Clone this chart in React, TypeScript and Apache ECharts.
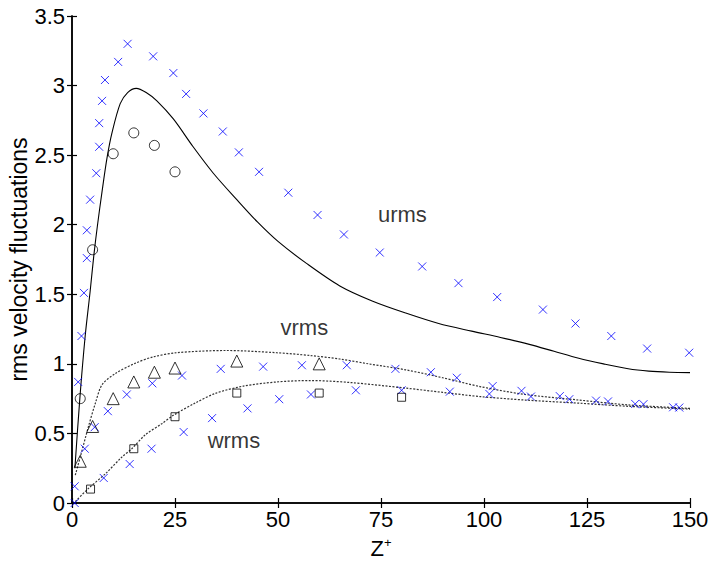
import React, { useEffect, useRef } from "react";
import * as echarts from "echarts";

// ---- data ----
const uLine: number[][] = [
  [0.7, 0.25], [1.9, 0.75], [3.2, 1.2], [4.4, 1.52], [5.3, 1.78], [6.2, 2.0], [7.3, 2.24],
  [8.5, 2.48], [9.7, 2.66], [11.7, 2.87], [13.5, 2.95], [15.6, 2.98], [18, 2.95], [20.6, 2.89],
  [24.6, 2.76], [29.4, 2.56], [34.3, 2.37], [40, 2.18], [45, 2.02], [50, 1.88], [57, 1.72],
  [65, 1.56], [73, 1.45], [81, 1.365], [89, 1.29], [97, 1.235], [104, 1.19], [111, 1.14],
  [117, 1.09], [123, 1.04], [129, 1.0], [135, 0.965], [140, 0.948], [145, 0.94], [150, 0.937],
];
const vLine: number[][] = [
  [0.8, 0.2], [2, 0.33], [4, 0.55], [5.7, 0.72], [7.3, 0.85], [10.5, 0.93], [15.4, 1.005],
  [19.7, 1.05], [25.4, 1.08], [37.5, 1.096], [49.7, 1.08], [57.8, 1.06], [65, 1.035],
  [72, 1.0], [81, 0.957], [90, 0.9], [99, 0.837], [110, 0.78], [123, 0.74], [135, 0.705],
  [150, 0.68],
];
const wLine: number[][] = [
  [0.8, 0.01], [4, 0.105], [8.1, 0.21], [12.1, 0.33], [14.5, 0.39], [17.8, 0.49], [21.8, 0.57],
  [24.6, 0.63], [30, 0.72], [35, 0.79], [41.6, 0.84], [49.7, 0.87], [57.8, 0.88], [67.5, 0.866],
  [81.2, 0.825], [90, 0.795], [99, 0.765], [110, 0.74], [123.3, 0.717], [135, 0.695],
  [150, 0.675],
];
const uDns: number[][] = [
  [1.5, 0.87], [2.3, 1.2], [2.9, 1.51], [3.6, 1.76], [3.6, 1.96], [4.4, 2.18], [5.9, 2.37],
  [6.6, 2.56], [6.6, 2.73], [7.3, 2.89], [8.0, 3.04], [11.2, 3.17], [13.5, 3.3], [19.7, 3.21],
  [24.6, 3.09], [27.7, 2.94], [31.9, 2.8], [36.6, 2.67], [40.5, 2.52], [45.4, 2.38],
  [52.5, 2.23], [59.6, 2.07], [66.0, 1.93], [74.7, 1.8], [85.0, 1.7], [93.8, 1.58],
  [103.2, 1.48], [114.3, 1.39], [122.2, 1.29], [130.9, 1.2], [139.6, 1.11], [149.8, 1.08],
];
const vDns: number[][] = [
  [0.65, 0], [3.1, 0.39], [5.5, 0.545], [8.7, 0.66], [13.3, 0.78], [19.5, 0.86], [26.7, 0.916],
  [36.1, 0.964], [46.4, 0.98], [55.8, 0.99], [66.7, 0.99], [78.5, 0.964], [87.1, 0.94],
  [93.4, 0.9], [102.1, 0.84], [109.1, 0.806], [118.4, 0.768], [127.2, 0.736], [136.7, 0.712],
  [145.9, 0.688],
];
const wDns: number[][] = [
  [0.65, 0.12], [7.7, 0.18], [14.0, 0.28], [19.3, 0.39], [27.1, 0.51], [34.0, 0.61],
  [42.6, 0.68], [50.3, 0.746], [58.0, 0.78], [68.9, 0.81], [80.0, 0.81], [91.7, 0.8],
  [101.3, 0.784], [111.4, 0.765], [120.7, 0.746], [130.1, 0.73], [138.7, 0.71], [147.4, 0.686],
];
const uExp: number[][] = [[2, 0.75], [5, 1.82], [10, 2.51], [15, 2.66], [20, 2.57], [25, 2.38]];
const vExp: number[][] = [
  [2, 0.3], [5, 0.55], [10, 0.75], [15, 0.87], [20, 0.94], [25, 0.97], [40, 1.02], [60, 1.0],
];
const wExp: number[][] = [[4.5, 0.1], [15, 0.39], [25, 0.62], [40, 0.79], [60, 0.79], [80, 0.76]];
const curveLabels: { name: string; at: number[] }[] = [
  { name: "urms", at: [80.2, 2.07] },
  { name: "vrms", at: [56.4, 1.26] },
  { name: "wrms", at: [39.3, 0.45] },
];

const FONT = "Arial, 'Liberation Sans', Helvetica, sans-serif";
const FS = 22;

export default function App() {
  const ref = useRef<HTMLDivElement>(null);
  useEffect(() => {
    if (!ref.current) return;
    const chart = echarts.init(ref.current, undefined, { renderer: "svg" });
    const crossSym = "path://M0 0L10 10M10 0L0 10";
    const axisCommon = {
      min: 0,
      axisLine: { show: true, lineStyle: { color: "#000", width: 1.5 } },
      axisTick: { show: true, inside: true, length: 5, lineStyle: { color: "#000", width: 1.2 } },
      splitLine: { show: false },
    };
    const dns = (data: number[][], name: string) => ({
      type: "scatter",
      name,
      data,
      symbol: crossSym,
      symbolSize: 8,
      clip: false,
      itemStyle: { color: "rgba(0,0,0,0)", borderColor: "#0000ff", borderWidth: 1 },
      z: 5,
    });
    const exp = (data: number[][], name: string, symbol: string, size: number) => ({
      type: "scatter",
      name,
      data,
      symbol,
      symbolSize: size,
      clip: false,
      itemStyle: { color: "rgba(0,0,0,0)", borderColor: "#000", borderWidth: 1 },
      z: 6,
    });
    const line = (data: number[][], name: string, dotted: boolean) => ({
      type: "line",
      name,
      data,
      symbol: "none",
      smooth: 0.3,
      lineStyle: dotted
        ? { color: "#333", width: 1.2, type: [2, 1.5] }
        : { color: "#000", width: 1.1, type: "solid" },
      z: 3,
    });
    chart.setOption({
      animation: false,
      backgroundColor: "#fff",
      textStyle: { fontFamily: FONT },
      grid: {
        left: 72,
        right: 19,
        top: 16,
        bottom: 60,
        containLabel: false,
        outerBoundsMode: "none",
      },
      xAxis: [
        {
          ...axisCommon,
          type: "value",
          position: "bottom",
          max: 150,
          interval: 25,
          axisLabel: { color: "#000", fontSize: FS, fontFamily: FONT, margin: 5 },
          name: "{a|Z}{b|+}",
          nameLocation: "middle",
          nameGap: 33,
          nameMoveOverlap: false,
          nameTextStyle: {
            rich: {
              a: { fontSize: FS, fontFamily: FONT, color: "#000" },
              b: { fontSize: 13, fontFamily: FONT, color: "#000", padding: [0, 0, 12, 0] },
            },
          },
        },
        {
          ...axisCommon,
          type: "value",
          position: "top",
          max: 150,
          interval: 25,
          axisLabel: { show: false },
        },
      ],
      yAxis: [
        {
          ...axisCommon,
          type: "value",
          position: "left",
          max: 3.5,
          interval: 0.5,
          axisLabel: { color: "#000", fontSize: FS, fontFamily: FONT, margin: 7 },
          name: "rms velocity fluctuations",
          nameLocation: "middle",
          nameGap: 42,
          nameMoveOverlap: false,
          nameTextStyle: { color: "#000", fontSize: 23, fontFamily: FONT },
        },
        {
          ...axisCommon,
          type: "value",
          position: "right",
          max: 3.5,
          interval: 0.5,
          axisLabel: { show: false },
        },
      ],
      series: [
        line(uLine, "urms LES", false),
        line(vLine, "vrms LES", true),
        line(wLine, "wrms LES", true),
        dns(uDns, "urms DNS"),
        dns(vDns, "vrms DNS"),
        dns(wDns, "wrms DNS"),
        exp(uExp, "urms exp", "circle", 10),
        exp(vExp, "vrms exp", "triangle", 12),
        exp(wExp, "wrms exp", "rect", 8),
        {
          type: "scatter",
          name: "labels",
          data: curveLabels.map((c) => ({ value: c.at, name: c.name })),
          symbolSize: 1,
          itemStyle: { color: "rgba(0,0,0,0)" },
          label: {
            show: true,
            position: "inside",
            formatter: (p: any) => p.name,
            color: "#000",
            fontSize: FS,
            fontFamily: FONT,
          },
          z: 7,
        },
      ],
    });
    return () => chart.dispose();
  }, []);
  return (
    <div
      ref={ref}
      style={{ position: "fixed", left: 0, top: 0, width: 709, height: 563, background: "#fff" }}
    />
  );
}
